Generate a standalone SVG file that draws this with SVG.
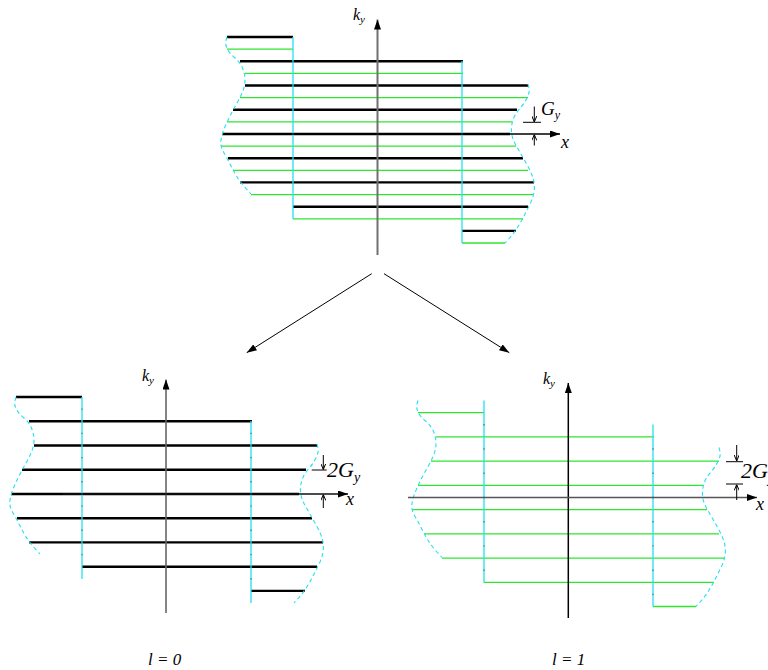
<svg xmlns="http://www.w3.org/2000/svg" xmlns:xlink="http://www.w3.org/1999/xlink" width="768" height="670" viewBox="0 0 768 670">
<style>
.blk{stroke:#000;stroke-width:2.4;fill:none}
.grn{stroke:#2ee62e;stroke-width:1.3;fill:none}
.cy{stroke:#22e0f2;stroke-width:1.3;fill:none}
.cyd{stroke:#22e0f2;stroke-width:1.1;fill:none;stroke-dasharray:4 3}
.mk{stroke:#4c7f8c;stroke-width:1.3}
.thin{stroke:#000;stroke-width:1;fill:none}
.lbl{font-family:"Liberation Serif","DejaVu Serif",serif;font-style:italic;fill:#000}
</style>
<defs>
<marker id="ah" viewBox="0 0 10 7" refX="10" refY="3.5" markerWidth="10" markerHeight="7" markerUnits="userSpaceOnUse" orient="auto"><path d="M0,0 L10,3.5 L0,7 Z" fill="#000"/></marker>
<marker id="sa" viewBox="0 0 6 5" refX="6" refY="2.5" markerWidth="6" markerHeight="5" markerUnits="userSpaceOnUse" orient="auto"><path d="M0,0 L6,2.5 L0,5" fill="none" stroke="#000" stroke-width="1"/></marker>
<g id="blkLines" class="blk">
<line x1="227" y1="37" x2="293" y2="37"/>
<line x1="240" y1="61.2" x2="463" y2="61.2"/>
<line x1="245" y1="85.5" x2="528" y2="85.5"/>
<line x1="233" y1="109.7" x2="517" y2="109.7"/>
<line x1="222" y1="134" x2="510" y2="134"/>
<line x1="228" y1="158.2" x2="523" y2="158.2"/>
<line x1="240" y1="182.4" x2="534" y2="182.4"/>
<line x1="293" y1="206.7" x2="528" y2="206.7"/>
<line x1="462" y1="230.9" x2="516" y2="230.9"/>
</g>
<g id="grnLines" class="grn">
<line x1="227" y1="49.1" x2="293" y2="49.1"/>
<line x1="245" y1="73.4" x2="463" y2="73.4"/>
<line x1="240" y1="97.6" x2="528" y2="97.6"/>
<line x1="227" y1="121.8" x2="512" y2="121.8"/>
<line x1="221" y1="146.1" x2="516" y2="146.1"/>
<line x1="233" y1="170.3" x2="528" y2="170.3"/>
<line x1="251" y1="194.6" x2="533" y2="194.6"/>
<line x1="293" y1="218.8" x2="523" y2="218.8"/>
<line x1="462" y1="243" x2="505" y2="243"/>
</g>
<g id="frame">
<line class="cy" x1="293" y1="37" x2="293" y2="219"/>
<line class="cy" x1="462" y1="61" x2="462" y2="243"/>
<path class="cyd" d="M227,37 L226,40.5 Q225,44 227,48.5 Q229,53 234.5,57.5 Q240,62 242.5,68 Q245,74 245,80 Q245,86 242.5,92 Q240,98 236.5,104 Q233,110 230,116 Q227,122 224.5,128 Q222,134 221,140 Q220,146 223.5,152 Q227,158 230,164 Q233,170 236.5,176 Q240,182 245.5,188 L251,194"/>
<path class="cyd" d="M528,84 L529,88 Q530,92 527,98 Q524,104 519.5,109 Q515,114 513,120 Q511,126 511.5,132 Q512,138 515,143.5 Q518,149 521.5,155 Q525,161 528.5,167.5 Q532,174 533.5,180 Q535,186 534,192 Q533,198 530,204 Q527,210 524,216 Q521,222 517.5,227.5 Q514,233 509.5,238 L505,243"/>
</g>
</defs>

<g id="top-panel">
<use xlink:href="#grnLines"/>
<use xlink:href="#blkLines"/>
<use xlink:href="#frame"/>
<line x1="377.5" y1="255" x2="377.5" y2="19.5" stroke="#707070" stroke-width="2" marker-end="url(#ah)"/>
<line x1="275" y1="134" x2="560" y2="134" stroke="#000" stroke-width="1.4" marker-end="url(#ah)"/>
<line class="thin" x1="534.3" y1="106.5" x2="534.3" y2="122" marker-end="url(#sa)"/>
<line class="thin" x1="523" y1="122.3" x2="541" y2="122.3"/>
<line class="thin" x1="534.3" y1="145.5" x2="534.3" y2="134.5" marker-end="url(#sa)"/>
<text class="lbl" x="353" y="20" font-size="16">k<tspan font-size="11" dy="3">y</tspan></text>
<text class="lbl" x="541" y="115" font-size="19">G<tspan font-size="12" dy="4">y</tspan></text>
<text class="lbl" x="561" y="148" font-size="18">x</text>
</g>

<g id="connectors">
<line class="thin" x1="371.7" y1="273.7" x2="246.7" y2="352.7" stroke-width="1.2" marker-end="url(#ah)"/>
<line class="thin" x1="384" y1="273.7" x2="509.3" y2="352.7" stroke-width="1.2" marker-end="url(#ah)"/>
</g>

<g id="left-panel">
<g transform="translate(-211,360)">
<use xlink:href="#blkLines"/>
<use xlink:href="#frame"/>
<path class="mk" d="M293,48.4v1.4 M293,72.7v1.4 M293,96.9v1.4 M293,121.1v1.4 M293,145.4v1.4 M293,169.6v1.4 M293,193.9v1.4 M462,72.7v1.4 M462,96.9v1.4 M462,121.1v1.4 M462,145.4v1.4 M462,169.6v1.4 M462,193.9v1.4 M462,218.1v1.4"/>
</g>
<line x1="166" y1="613" x2="166" y2="379.5" stroke="#666" stroke-width="1.6" marker-end="url(#ah)"/>
<line x1="63" y1="494" x2="348" y2="494" stroke="#111" stroke-width="1.6" marker-end="url(#ah)"/>
<line class="thin" x1="323.3" y1="455" x2="323.3" y2="469.5" marker-end="url(#sa)"/>
<line class="thin" x1="311.7" y1="470" x2="326.7" y2="470"/>
<line class="thin" x1="323.3" y1="508" x2="323.3" y2="494.5" marker-end="url(#sa)"/>
<text class="lbl" x="142" y="381" font-size="16">k<tspan font-size="11" dy="3">y</tspan></text>
<text class="lbl" x="327" y="477" font-size="22">2G<tspan font-size="14" dy="5">y</tspan></text>
<text class="lbl" x="346" y="505" font-size="18">x</text>
</g>

<g id="right-panel">
<g transform="translate(191,363.5)">
<use xlink:href="#grnLines"/>
<use xlink:href="#frame"/>
<path class="mk" d="M293,60.5v1.4 M293,84.8v1.4 M293,109v1.4 M293,133.3v1.4 M293,157.5v1.4 M293,181.7v1.4 M293,206v1.4 M462,84.8v1.4 M462,109v1.4 M462,133.3v1.4 M462,157.5v1.4 M462,181.7v1.4 M462,206v1.4 M462,230.2v1.4"/>
</g>
<line x1="568.3" y1="618" x2="568.3" y2="383" stroke="#000" stroke-width="1.5" marker-end="url(#ah)"/>
<line x1="408" y1="497.5" x2="757" y2="497.5" stroke="#555" stroke-width="1.5" marker-end="url(#ah)"/>
<line class="thin" x1="736.7" y1="445" x2="736.7" y2="461" marker-end="url(#sa)"/>
<line class="thin" x1="726" y1="461.7" x2="743" y2="461.7"/>
<line class="thin" x1="736.7" y1="500" x2="736.7" y2="484.5" marker-end="url(#sa)"/>
<line class="thin" x1="726" y1="484" x2="743" y2="484"/>
<text class="lbl" x="543" y="384" font-size="16">k<tspan font-size="11" dy="3">y</tspan></text>
<text class="lbl" x="741" y="478" font-size="22">2G<tspan font-size="14" dy="5">y</tspan></text>
<text class="lbl" x="756" y="510" font-size="18">x</text>
</g>

<g id="labels">
<text class="lbl" x="148" y="665" font-size="17">l = 0</text>
<text class="lbl" x="552" y="665" font-size="17">l = 1</text>
</g>
</svg>
